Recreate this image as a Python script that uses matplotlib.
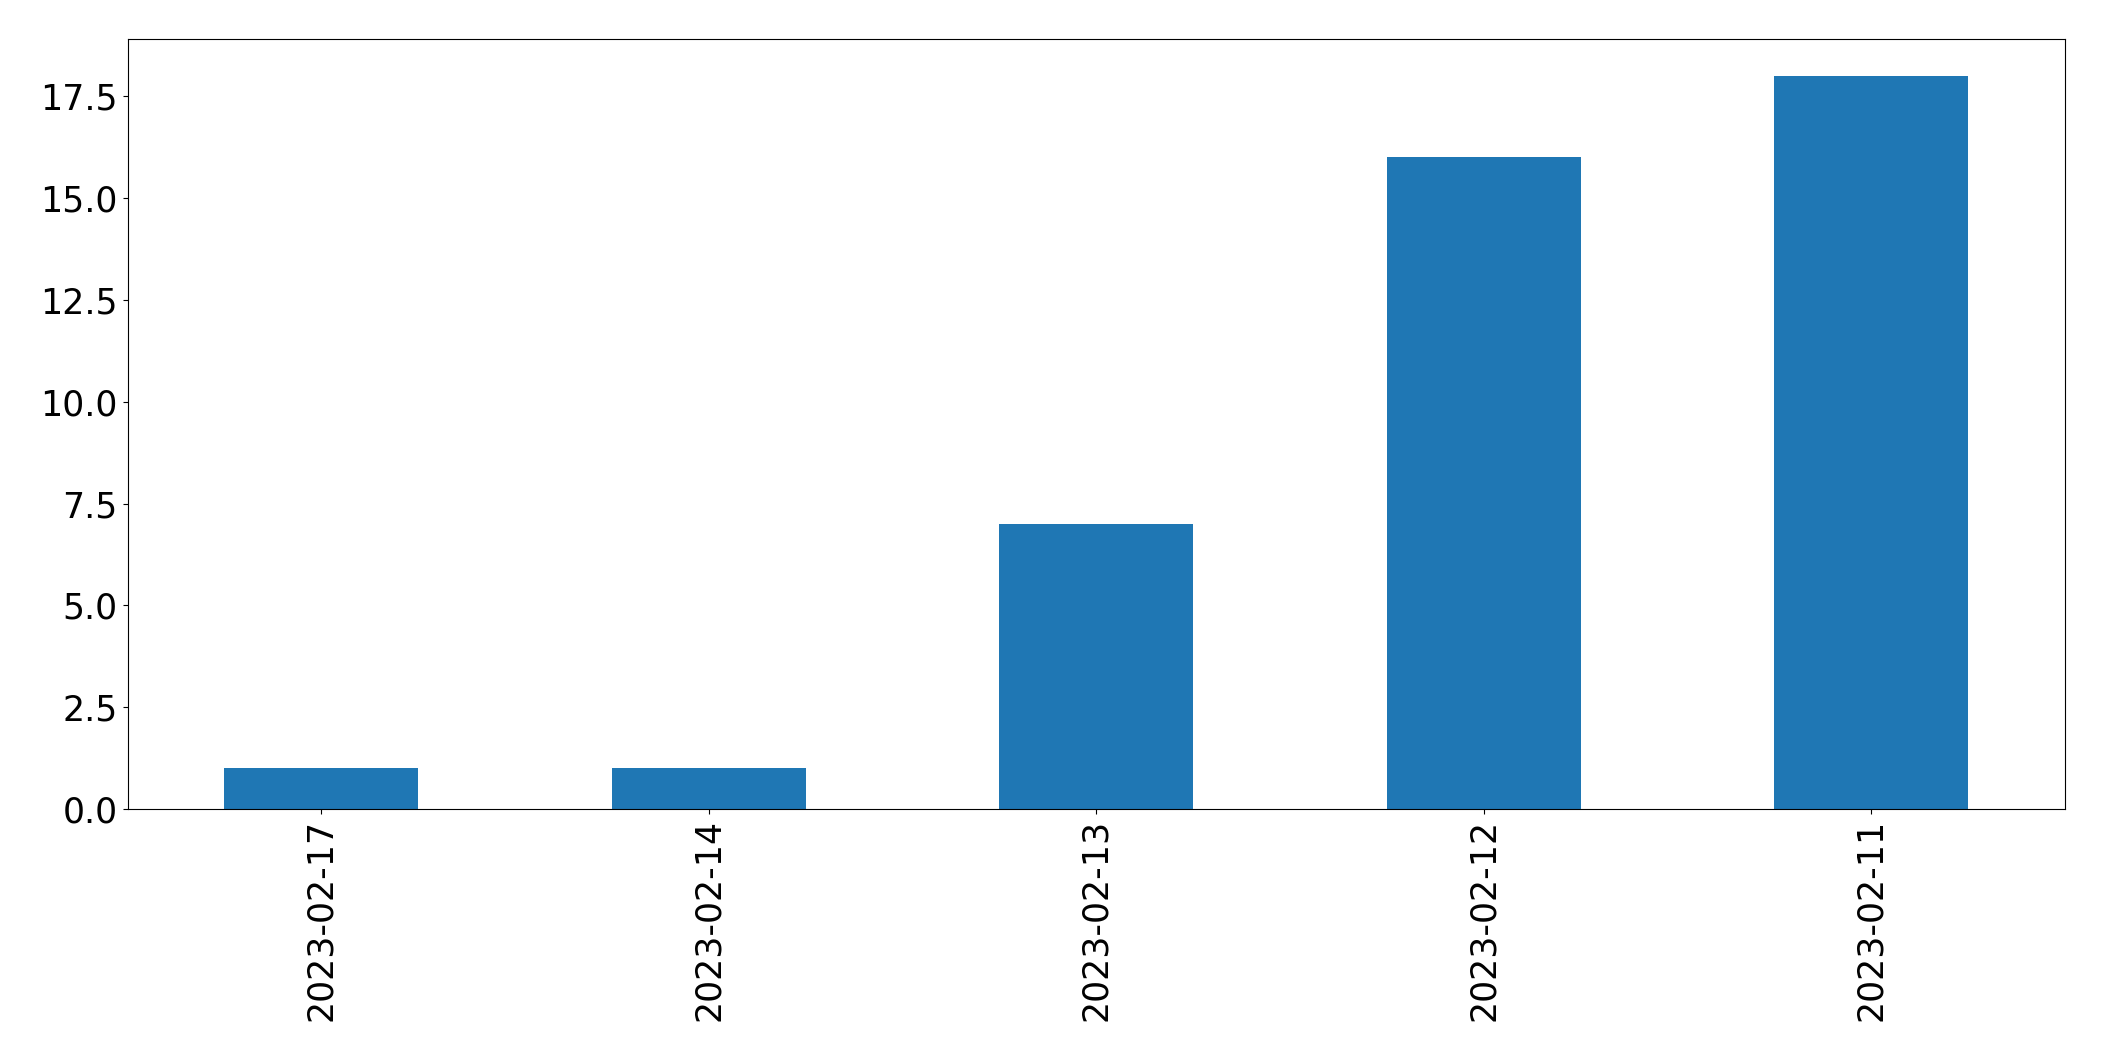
import matplotlib
matplotlib.use("Agg")
import matplotlib.pyplot as plt
import pandas as pd

dates = ["2023-02-17", "2023-02-14", "2023-02-13", "2023-02-12", "2023-02-11"]
counts = [1, 1, 7, 16, 18]

serie = pd.Series(counts, index=dates)

fig = plt.figure(figsize=(21.04, 10.61), dpi=100)
ax = fig.add_subplot(111)
serie.plot(kind="bar", ax=ax, color="#1f77b4")
ax.tick_params(labelsize=25)

fig.subplots_adjust(left=0.0606, right=0.9815, top=0.963, bottom=0.2375)
fig.savefig("out.png", dpi=100)
plt.close()
